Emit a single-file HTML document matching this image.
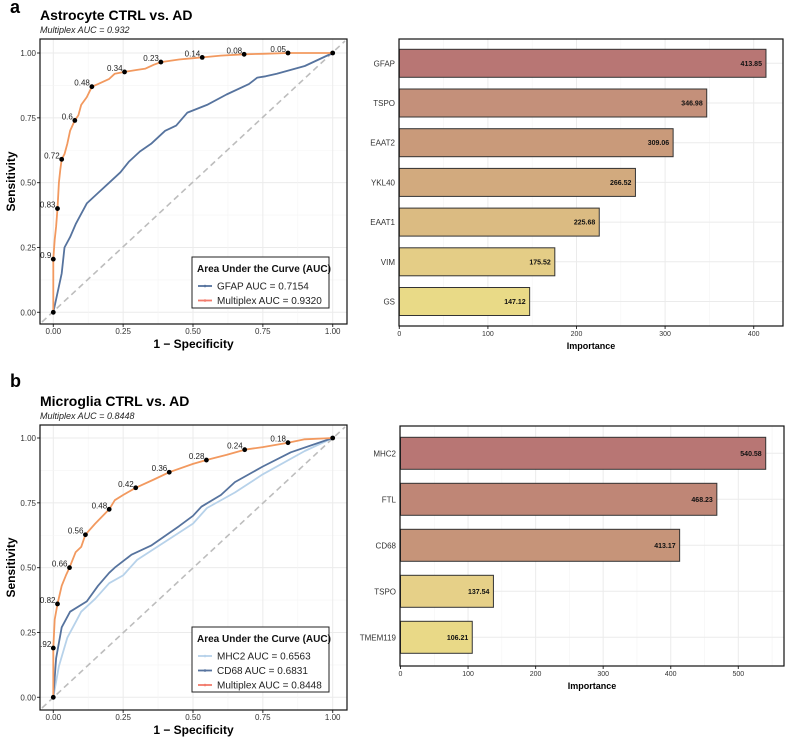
<!DOCTYPE html>
<html><head><meta charset="utf-8"><style>
body{margin:0;background:#fff;width:787px;height:741px;overflow:hidden}
svg{display:block;font-family:"Liberation Sans",Arial,sans-serif}
</style></head><body>
<svg id="s" width="787" height="741" viewBox="0 0 787 741"></svg>
<script>
// ---------- DATA ----------
const rocAMultiX=[0,0,0.005,0.01,0.015,0.02,0.025,0.03,0.04,0.05,0.06,0.077,0.09,0.1,0.12,0.138,0.16,0.2,0.22,0.255,0.3,0.33,0.36,0.385,0.45,0.5,0.533,0.6,0.683,0.75,0.84,1];
const rocAMultiY=[0,0.205,0.28,0.33,0.4,0.5,0.55,0.59,0.61,0.65,0.7,0.74,0.76,0.8,0.83,0.87,0.88,0.9,0.92,0.927,0.935,0.94,0.955,0.965,0.975,0.98,0.983,0.99,0.995,0.997,1,1];
const rocAGfapX=[0,0.02,0.03,0.04,0.06,0.08,0.1,0.12,0.16,0.2,0.24,0.27,0.31,0.35,0.4,0.44,0.48,0.55,0.62,0.7,0.73,0.76,0.8,0.85,0.9,1];
const rocAGfapY=[0,0.1,0.15,0.25,0.29,0.34,0.38,0.42,0.46,0.5,0.54,0.58,0.62,0.65,0.7,0.72,0.77,0.8,0.84,0.88,0.905,0.91,0.92,0.935,0.95,1];
const rocAThrX=[0,0,0.015,0.03,0.077,0.138,0.255,0.385,0.533,0.683,0.84,1];
const rocAThrY=[0,0.205,0.4,0.59,0.74,0.87,0.927,0.965,0.983,0.995,1,1];
const rocAThrLab=["","0.9","0.83","0.72","0.6","0.48","0.34","0.23","0.14","0.08","0.05",""];

const rocBMultiX=[0,0,0.005,0.015,0.03,0.045,0.058,0.08,0.1,0.115,0.15,0.2,0.22,0.25,0.295,0.36,0.415,0.5,0.548,0.62,0.685,0.75,0.84,0.9,1];
const rocBMultiY=[0,0.19,0.3,0.36,0.43,0.47,0.5,0.56,0.58,0.627,0.67,0.725,0.76,0.78,0.808,0.84,0.868,0.9,0.915,0.935,0.955,0.965,0.982,0.995,1];
const rocBCd68X=[0,0.01,0.03,0.06,0.12,0.16,0.2,0.22,0.28,0.35,0.45,0.5,0.53,0.6,0.65,0.75,0.85,1];
const rocBCd68Y=[0,0.15,0.27,0.33,0.37,0.43,0.48,0.5,0.55,0.585,0.66,0.7,0.735,0.78,0.83,0.89,0.945,1];
const rocBMhcX=[0,0.02,0.05,0.08,0.1,0.15,0.2,0.25,0.3,0.4,0.5,0.55,0.65,0.75,0.9,1];
const rocBMhcY=[0,0.12,0.23,0.29,0.33,0.38,0.44,0.47,0.53,0.6,0.67,0.73,0.79,0.86,0.95,1];
const rocBThrX=[0,0,0.015,0.058,0.115,0.2,0.295,0.415,0.548,0.685,0.84,1];
const rocBThrY=[0,0.19,0.36,0.5,0.627,0.725,0.808,0.868,0.915,0.955,0.982,1];
const rocBThrLab=["",".92","0.82","0.66","0.56","0.48","0.42","0.36","0.28","0.24","0.18",""];

const barACats=["GFAP","TSPO","EAAT2","YKL40","EAAT1","VIM","GS"];
const barAVals=[413.85,346.98,309.06,266.52,225.68,175.52,147.12];
const barBCats=["MHC2","FTL","CD68","TSPO","TMEM119"];
const barBVals=[540.58,468.23,413.17,137.54,106.21];
const rocTicks=[0,0.25,0.5,0.75,1];
const rocTickLab=["0.00","0.25","0.50","0.75","1.00"];
const barATicks=[0,100,200,300,400];
const barBTicks=[0,100,200,300,400,500];

// ---------- HELPERS ----------
const S=document.getElementById('s');const NS='http://www.w3.org/2000/svg';
function el(t,a,txt){const e=document.createElementNS(NS,t);for(const k in a)e.setAttribute(k,a[k]);if(txt!==undefined)e.textContent=txt;S.appendChild(e);return e;}
function lerp(a,b,c){const t=(c-a[0])/(a[1]-a[0]);return b[0]+t*(b[1]-b[0]);}

function roc(cfg){
  const sx=v=>lerp([0,1],[cfg.x0,cfg.x1],v), sy=v=>lerp([0,1],[cfg.y0,cfg.y1],v);
  const p=el('rect',{x:cfg.L,y:cfg.T,width:cfg.R-cfg.L,height:cfg.B-cfg.T,fill:'#fff'});
  
  for(let i=0;i<rocTicks.length;i++){
    const v=rocTicks[i];
    el('line',{x1:sx(v),x2:sx(v),y1:cfg.T,y2:cfg.B,stroke:'#ebebeb','stroke-width':1});
    el('line',{y1:sy(v),y2:sy(v),x1:cfg.L,x2:cfg.R,stroke:'#ebebeb','stroke-width':1});
    if(i<4){const m=v+0.125;
      el('line',{x1:sx(m),x2:sx(m),y1:cfg.T,y2:cfg.B,stroke:'#f4f4f4','stroke-width':0.6});
      el('line',{y1:sy(m),y2:sy(m),x1:cfg.L,x2:cfg.R,stroke:'#f4f4f4','stroke-width':0.6});}
    const xl=el('text',{x:sx(v),y:cfg.B+10,'font-size':8,'text-anchor':'middle',fill:'#333'},rocTickLab[i]);
    
    const yl=el('text',{x:cfg.L-4,y:sy(v)+3,'font-size':8,'text-anchor':'end',fill:'#333'},rocTickLab[i]);
    
    el('line',{x1:sx(v),x2:sx(v),y1:cfg.B,y2:cfg.B+3,stroke:'#333'});
    el('line',{x1:cfg.L-3,x2:cfg.L,y1:sy(v),y2:sy(v),stroke:'#333'});
  }
  const d=el('line',{x1:cfg.L+2,y1:cfg.B-2,x2:cfg.R-2,y2:cfg.T+2,stroke:'#bdbdbd','stroke-width':1.6,'stroke-dasharray':'6,4'});
  
  cfg.series.forEach(s=>{
    const pts=s.x.map((v,i)=>sx(v).toFixed(1)+','+sy(s.y[i]).toFixed(1)).join(' ');
    const l=el('polyline',{points:pts,fill:'none',stroke:s.c,'stroke-width':1.8,'stroke-linejoin':'round'});
    
  });
  cfg.thrX.forEach((v,i)=>{
    const c=el('circle',{cx:sx(v),cy:sy(cfg.thrY[i]),r:2.4,fill:'#000'});
    
    if(cfg.lab[i]){const t=el('text',{x:sx(v)-2,y:sy(cfg.thrY[i])-1,'font-size':8,'text-anchor':'end',fill:'#222'},cfg.lab[i]);
      }
  });
  el('rect',{x:cfg.L,y:cfg.T,width:cfg.R-cfg.L,height:cfg.B-cfg.T,fill:'none',stroke:'#111','stroke-width':1.2});
  // legend
  const lg=cfg.leg;
  const lb=el('rect',{x:lg.x,y:lg.y,width:137,height:lg.h,fill:'#fff',stroke:'#222','stroke-width':1});
  
  el('text',{x:lg.x+5,y:lg.y+15,'font-size':10,'font-weight':'bold',fill:'#111'},'Area Under the Curve (AUC)');
  lg.items.forEach((it,i)=>{const yy=lg.y+29+i*14.5;
    el('line',{x1:lg.x+6,x2:lg.x+20,y1:yy,y2:yy,stroke:it.c,'stroke-width':1.8});
    el('circle',{cx:lg.x+13,cy:yy,r:1.3,fill:it.c});
    const t=el('text',{x:lg.x+25,y:yy+3.5,'font-size':10,fill:'#222'},it.t);
    });
  // titles
  const a=el('text',{x:cfg.L-30,y:cfg.letterY,'font-size':18,'font-weight':'bold'},cfg.letter);
  const ti=el('text',{x:cfg.L,y:cfg.tTop+9,'font-size':14,'font-weight':'bold'},cfg.title);
  const su=el('text',{x:cfg.L,y:cfg.tTop+22,'font-size':9,'font-style':'italic',fill:'#222'},cfg.sub);
  const xt=el('text',{x:(cfg.L+cfg.R)/2,y:cfg.B+24,'font-size':12,'font-weight':'bold','text-anchor':'middle'},'1 − Specificity');
  const cy=(cfg.T+cfg.B)/2;
  const yt=el('text',{x:15,y:cy,'font-size':12,'font-weight':'bold','text-anchor':'middle',transform:`rotate(-90 15 ${cy})`},'Sensitivity');
}

function bars(cfg){
  const sx=v=>cfg.x0+v*cfg.k;
  const p=el('rect',{x:cfg.L,y:cfg.T,width:cfg.R-cfg.L,height:cfg.B-cfg.T,fill:'#fff'});
  
  const step=cfg.ticks[1]-cfg.ticks[0];
  for(let v=step/2;sx(v)<cfg.R;v+=step)el('line',{x1:sx(v),x2:sx(v),y1:cfg.T,y2:cfg.B,stroke:'#f4f4f4','stroke-width':0.6});
  cfg.ticks.forEach(v=>{el('line',{x1:sx(v),x2:sx(v),y1:cfg.T,y2:cfg.B,stroke:'#ebebeb'});
    el('line',{x1:sx(v),x2:sx(v),y1:cfg.B,y2:cfg.B+3,stroke:'#333'});
    const t=el('text',{x:sx(v),y:cfg.B+10,'font-size':7,'text-anchor':'middle',fill:'#333'},String(v));
    });
  cfg.cats.forEach((c,i)=>{const yc=cfg.y0+i*cfg.sp;
    el('line',{x1:cfg.L,x2:cfg.R,y1:yc,y2:yc,stroke:'#ebebeb'});
    const b=el('rect',{x:sx(0),y:yc-cfg.h/2,width:sx(cfg.vals[i])-sx(0),height:cfg.h,fill:cfg.cols[i],stroke:'#333','stroke-width':1});
    
    const vl=el('text',{x:sx(cfg.vals[i])-4,y:yc+2.5,'font-size':7,'font-weight':'bold','text-anchor':'end',fill:'#111'},cfg.vals[i].toFixed(2));
    
    const cl=el('text',{x:cfg.L-4,y:yc+3,'font-size':8,'text-anchor':'end',fill:'#333'},c);
    });
  el('rect',{x:cfg.L,y:cfg.T,width:cfg.R-cfg.L,height:cfg.B-cfg.T,fill:'none',stroke:'#111','stroke-width':1.2});
  const xt=el('text',{x:(cfg.L+cfg.R)/2,y:cfg.B+23,'font-size':9,'font-weight':'bold','text-anchor':'middle'},'Importance');
  
}

const OR='#f2995f',BL='#56739e',LB='#b7d2ea';
roc({id:'roc-astrocyte',L:40,R:347,T:39,B:324,x0:53.3,x1:332.7,y0:312.3,y1:53,tTop:11,letterY:13,letter:'a',title:'Astrocyte CTRL vs. AD',sub:'Multiplex AUC = 0.932',
  series:[{x:rocAGfapX,y:rocAGfapY,c:BL,n:'gfap-roc-curve'},{x:rocAMultiX,y:rocAMultiY,c:OR,n:'multiplex-roc-curve'}],
  thrX:rocAThrX,thrY:rocAThrY,lab:rocAThrLab,
  leg:{x:192,y:257,h:51,items:[{c:BL,t:'GFAP AUC = 0.7154'},{c:'#f27b6c',t:'Multiplex AUC = 0.9320'}]}});
roc({id:'roc-microglia',L:40,R:347,T:425,B:710,x0:53.3,x1:332.7,y0:697.3,y1:438,tTop:397,letterY:387,letter:'b',title:'Microglia CTRL vs. AD',sub:'Multiplex AUC = 0.8448',
  series:[{x:rocBMhcX,y:rocBMhcY,c:LB,n:'mhc2-roc-curve'},{x:rocBCd68X,y:rocBCd68Y,c:BL,n:'cd68-roc-curve'},{x:rocBMultiX,y:rocBMultiY,c:OR,n:'multiplex-roc-curve'}],
  thrX:rocBThrX,thrY:rocBThrY,lab:rocBThrLab,
  leg:{x:192,y:627,h:65,items:[{c:LB,t:'MHC2 AUC = 0.6563'},{c:BL,t:'CD68 AUC = 0.6831'},{c:'#f27b6c',t:'Multiplex AUC = 0.8448'}]}});
bars({id:'importance-astrocyte',L:399,R:783,T:39,B:326,x0:399.3,k:0.886,y0:63.3,sp:39.7,h:28,ticks:barATicks,cats:barACats,vals:barAVals,
  cols:['#b87674','#c4907a','#c99a7a','#d2aa7e','#dbbb82','#e4cd86','#e9da87']});
bars({id:'importance-microglia',L:400,R:784,T:426,B:666,x0:400.5,k:0.6756,y0:453.3,sp:46,h:32,ticks:barBTicks,cats:barBCats,vals:barBVals,
  cols:['#b87674','#bf8676','#c69479','#e6d088','#e9d987']});
</script>
</body></html>
